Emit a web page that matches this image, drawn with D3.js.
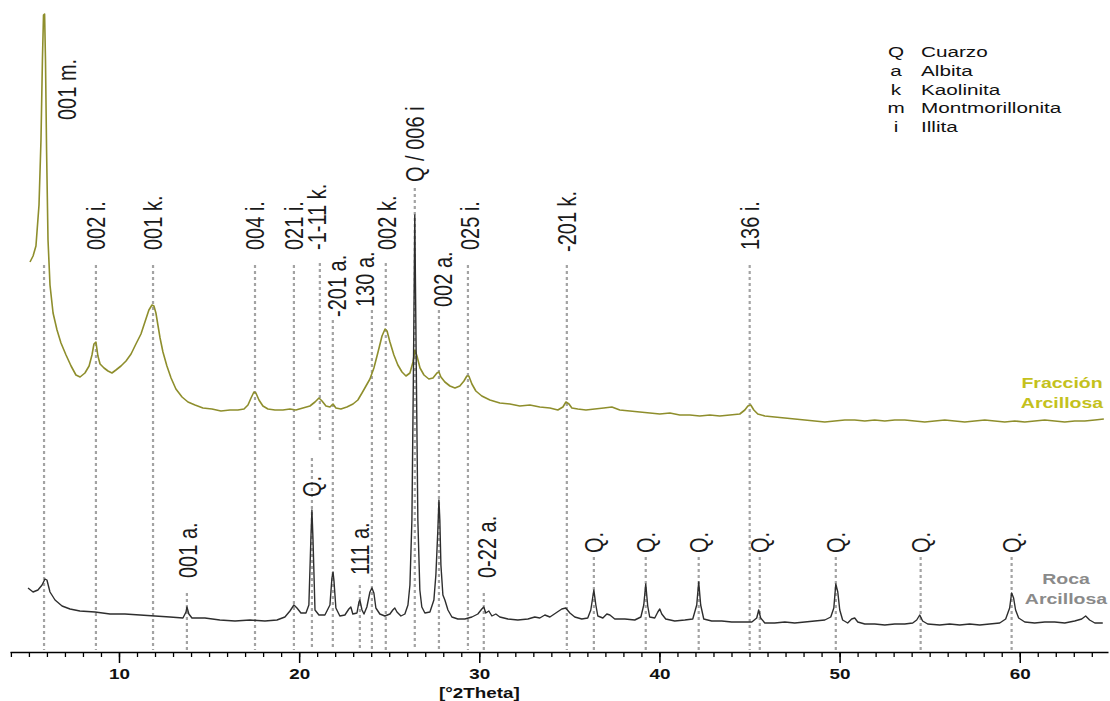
<!DOCTYPE html>
<html>
<head>
<meta charset="utf-8">
<script src="https://cdn.jsdelivr.net/npm/d3@7"></script>
<style>
  body { margin: 0; background: #fff; }
  text { font-family: "Liberation Sans", Arial, sans-serif; }
</style>
</head>
<body>
<svg id="chart" width="1110" height="701"></svg>
<script>
// XRD patterns, [°2Theta, intensity]
var clayPattern = [
  [5.06,390],[5.23,396],[5.39,406],[5.56,447],[5.67,512],[5.75,592],[5.81,637],[5.87,638],[5.92,592],[5.98,502],
  [6.06,412],[6.17,367],[6.34,339],[6.56,322],[6.78,309],[7.06,297],[7.34,286],[7.61,277],[7.84,275],[8.11,279],
  [8.34,286],[8.50,297],[8.61,308],[8.72,310],[8.83,296],[8.95,288],[9.17,284],[9.39,281],[9.61,279],[9.83,282],
  [10.11,286],[10.39,291],[10.67,298],[10.94,308],[11.22,318],[11.44,330],[11.66,342],[11.83,347],[11.94,346],[12.05,339],
  [12.16,327],[12.28,314],[12.44,300],[12.66,286],[12.89,274],[13.16,263],[13.50,255],[13.83,250],[14.22,247],[14.66,244],
  [15.16,243],[15.66,241],[16.16,242],[16.60,242],[16.94,243],[17.16,247],[17.33,254],[17.49,260],[17.60,259],[17.77,252],
  [17.99,246],[18.27,243],[18.66,242],[19.10,242],[19.49,243],[19.82,242],[20.21,244],[20.60,246],[20.88,250],[21.10,254],
  [21.27,251],[21.49,246],[21.71,245],[21.88,248],[22.04,244],[22.32,243],[22.65,245],[22.99,248],[23.26,252],[23.49,259],
  [23.71,266],[23.93,273],[24.15,284],[24.38,300],[24.60,316],[24.77,323],[24.88,321],[25.04,310],[25.26,297],[25.48,287],
  [25.71,280],[25.93,276],[26.15,279],[26.32,290],[26.43,302],[26.54,296],[26.71,284],[26.93,277],[27.20,273],[27.43,274],
  [27.65,279],[27.76,280],[27.87,275],[28.09,270],[28.37,266],[28.65,264],[28.92,266],[29.15,271],[29.31,276],[29.42,276],
  [29.59,268],[29.81,261],[30.14,256],[30.59,252],[31.14,249],[31.70,248],[32.25,246],[32.81,247],[33.36,245],[33.92,244],
  [34.36,242],[34.64,245],[34.81,250],[34.98,248],[35.14,244],[35.47,243],[35.92,242],[36.41,243],[36.91,244],[37.36,245],
  [37.80,242],[38.36,241],[38.91,240],[39.47,239],[40.02,238],[40.58,239],[41.13,237],[41.69,237],[42.24,236],[42.80,237],
  [43.35,236],[43.91,237],[44.46,238],[44.74,242],[44.91,246],[45.07,247],[45.24,242],[45.46,238],[45.85,236],[46.40,235],
  [46.96,234],[47.51,233],[48.07,232],[48.62,231],[49.18,230],[49.73,231],[50.29,232],[50.84,232],[51.40,231],[51.95,232],
  [52.51,231],[53.06,232],[53.62,232],[54.17,231],[54.73,230],[55.28,231],[55.84,232],[56.39,231],[56.95,230],[57.50,231],
  [58.06,232],[58.61,231],[59.17,230],[59.72,231],[60.28,230],[60.83,231],[61.39,232],[61.94,231],[62.50,230],[63.05,231],
  [63.61,231],[64.17,232],[64.67,233]
];

var rockPattern = [
  [4.95,64],[5.23,60],[5.50,62],[5.73,67],[5.89,73],[6.00,72],[6.17,60],[6.45,52],[6.84,46],[7.28,43],
  [7.83,41],[8.67,40],[9.50,38],[10.33,38],[11.17,37],[12.00,36],[12.83,35],[13.55,34],[13.72,40],[13.77,45],
  [13.88,38],[14.05,34],[14.77,34],[15.60,32],[16.44,31],[17.27,32],[18.10,31],[18.77,32],[19.21,35],[19.49,41],
  [19.71,47],[19.88,44],[20.10,39],[20.38,39],[20.54,47],[20.65,112],[20.71,142],[20.77,112],[20.88,42],[21.10,37],
  [21.43,37],[21.71,47],[21.82,74],[21.88,80],[21.93,72],[22.04,44],[22.26,36],[22.54,37],[22.76,43],[22.87,45],
  [22.98,38],[23.21,39],[23.32,50],[23.37,52],[23.49,42],[23.60,38],[23.76,45],[23.93,60],[24.04,64],[24.15,59],
  [24.26,44],[24.48,38],[24.76,36],[25.04,38],[25.20,42],[25.31,44],[25.43,40],[25.65,36],[25.87,38],[26.04,47],
  [26.15,67],[26.26,132],[26.34,272],[26.42,437],[26.51,272],[26.59,132],[26.70,62],[26.81,45],[26.98,39],[27.26,40],
  [27.48,52],[27.59,77],[27.70,122],[27.76,152],[27.81,132],[27.87,87],[27.98,57],[28.09,52],[28.26,42],[28.48,35],
  [28.81,33],[29.20,33],[29.59,35],[29.92,38],[30.14,43],[30.25,45],[30.36,39],[30.53,41],[30.70,36],[30.92,38],
  [31.14,35],[31.59,33],[32.14,32],[32.70,33],[33.08,35],[33.36,34],[33.64,37],[33.92,35],[34.25,39],[34.58,43],
  [34.80,44],[35.03,39],[35.30,35],[35.69,33],[36.02,34],[36.19,42],[36.36,62],[36.47,47],[36.58,36],[36.86,34],
  [37.08,38],[37.25,37],[37.52,33],[38.08,33],[38.63,32],[38.97,35],[39.13,47],[39.24,68],[39.35,46],[39.46,35],
  [39.74,34],[39.91,40],[40.02,43],[40.13,38],[40.35,33],[40.85,31],[41.41,32],[41.85,33],[42.07,47],[42.18,70],
  [42.29,47],[42.46,33],[42.90,31],[43.46,31],[44.01,30],[44.57,30],[45.13,30],[45.40,34],[45.51,42],[45.62,34],
  [45.85,29],[46.40,29],[46.96,30],[47.51,29],[48.07,30],[48.62,31],[49.18,32],[49.51,35],[49.68,44],[49.79,68],
  [49.90,60],[50.01,42],[50.17,32],[50.45,29],[50.67,33],[50.84,34],[51.01,30],[51.40,28],[51.95,28],[52.51,27],
  [53.06,28],[53.62,28],[54.06,29],[54.28,32],[54.45,37],[54.61,31],[54.89,28],[55.56,27],[56.11,28],[56.67,27],
  [57.22,28],[57.78,27],[58.33,28],[58.89,29],[59.22,33],[59.44,44],[59.55,59],[59.66,54],[59.77,42],[59.94,34],
  [60.28,30],[60.83,29],[61.39,30],[61.94,30],[62.50,29],[63.05,31],[63.44,33],[63.66,36],[63.88,32],[64.17,29],
  [64.61,29]
];

// peak markers: theta of the line, label, top of dotted line, label theta and label base (intensity units)
var clayPeaks = [
  {theta: 5.84,  label: "001 m.",   top: 387, at: 7.11,  base: 532},
  {theta: 8.72,  label: "002 i.",   top: 387, at: 8.72,  base: 402},
  {theta: 11.89, label: "001 k.",   top: 387, at: 11.89, base: 402},
  {theta: 17.55, label: "004 i.",   top: 387, at: 17.55, base: 402},
  {theta: 19.71, label: "021 i.",   top: 387, at: 19.71, base: 402},
  {theta: 21.15, label: "-1-11 k.", top: 389, at: 20.99, base: 402, bottom: 209},
  {theta: 21.87, label: "-201 a.",  top: 332, at: 22.10, base: 335},
  {theta: 24.04, label: "130 a.",   top: 342, at: 23.65, base: 345},
  {theta: 24.81, label: "002 k.",   top: 389, at: 24.85, base: 402},
  {theta: 26.42, label: "Q / 006 i", top: 464, at: 26.42, base: 470},
  {theta: 27.76, label: "002 a.",   top: 342, at: 27.98, base: 345},
  {theta: 29.37, label: "025 i.",   top: 387, at: 29.48, base: 402},
  {theta: 34.86, label: "-201 k.",  top: 387, at: 34.86, base: 400},
  {theta: 45.01, label: "136 i.",   top: 387, at: 45.01, base: 402}
];

var rockPeaks = [
  {theta: 13.77, label: "001 a.",  top: 59,  at: 13.83, base: 74},
  {theta: 20.71, label: "Q.",      top: 194, at: 20.71, base: 155},
  {theta: 23.37, label: "111 a.",  top: 67,  at: 23.37, base: 77},
  {theta: 30.25, label: "0-22 a.", top: 59,  at: 30.42, base: 74},
  {theta: 36.36, label: "Q.",      top: 95,  at: 36.36, base: 99},
  {theta: 39.24, label: "Q.",      top: 95,  at: 39.24, base: 99},
  {theta: 42.18, label: "Q.",      top: 95,  at: 42.18, base: 99},
  {theta: 45.57, label: "Q.",      top: 95,  at: 45.57, base: 99},
  {theta: 49.79, label: "Q.",      top: 95,  at: 49.79, base: 99},
  {theta: 54.50, label: "Q.",      top: 95,  at: 54.50, base: 99},
  {theta: 59.55, label: "Q.",      top: 95,  at: 59.55, base: 99}
];

var legendKeys = ["Q", "a", "k", "m", "i"];
var legendNames = ["Cuarzo", "Albita", "Kaolinita", "Montmorillonita", "Illita"];
var majorTicks = [10, 20, 30, 40, 50, 60];

var svg = d3.select("#chart");
var stretch = 1.3;   // text in the picture is wider than normal

var x = d3.scaleLinear().domain([3.95, 64.9]).range([10, 1108]);
var y = d3.scaleLinear().domain([0, 640]).range([652, 12]);

// dotted reference lines
var allPeaks = clayPeaks.concat(rockPeaks);
svg.append("g").selectAll("line")
  .data(allPeaks)
  .enter().append("line")
  .attr("x1", function (d) { return x(d.theta); })
  .attr("x2", function (d) { return x(d.theta); })
  .attr("y1", function (d) { return y(d.top); })
  .attr("y2", function (d) { return y(d.bottom || 2); })
  .attr("stroke", "#a3a3a3")
  .attr("stroke-width", 2.2)
  .attr("stroke-dasharray", "3,3");

var line = d3.line()
  .x(function (d) { return x(d[0]); })
  .y(function (d) { return y(d[1]); });

svg.append("path")
  .datum(clayPattern)
  .attr("d", line)
  .attr("fill", "none")
  .attr("stroke", "#8e8e2c")
  .attr("stroke-width", 1.6)
  .attr("stroke-linejoin", "round");

svg.append("path")
  .datum(rockPattern)
  .attr("d", line)
  .attr("fill", "none")
  .attr("stroke", "#2e2e2e")
  .attr("stroke-width", 1.4)
  .attr("stroke-linejoin", "round");

// rotated peak labels
svg.append("g").selectAll("text")
  .data(allPeaks)
  .enter().append("text")
  .attr("transform", function (d) {
    return "translate(" + x(d.at) + "," + y(d.base) + ") scale(" + stretch + ",1) rotate(-90)";
  })
  .attr("dy", "0.35em")
  .attr("font-size", 20)
  .attr("fill", "#1a1a1a")
  .text(function (d) { return d.label; });

// x axis
var axisG = svg.append("g").attr("transform", "translate(0," + y(0) + ")");
axisG.call(d3.axisBottom(x).tickValues(d3.range(4, 65)).tickSize(5).tickSizeOuter(0).tickFormat(""));
axisG.select(".domain").attr("stroke-width", 1.6);
axisG.selectAll(".tick line").attr("stroke-width", 1.3);

var majorG = svg.append("g").attr("transform", "translate(0," + y(0) + ")");
majorG.call(d3.axisBottom(x).tickValues(majorTicks).tickSize(11).tickPadding(6).tickFormat(d3.format("d")));
majorG.select(".domain").remove();
majorG.selectAll(".tick line").attr("stroke-width", 1.5);
majorG.selectAll("text")
  .attr("font-size", 14.5)
  .attr("font-weight", "bold")
  .attr("font-family", "Liberation Sans, Arial, sans-serif")
  .attr("fill", "#111")
  .attr("transform", "scale(" + stretch + ",1)");

svg.append("text")
  .attr("transform", "translate(" + x(30) + ",698) scale(" + stretch + ",1)")
  .attr("text-anchor", "middle")
  .attr("font-size", 14.5)
  .attr("font-weight", "bold")
  .attr("fill", "#111")
  .text("[°2Theta]");

// legend
var legendStretch = 1.38;
var legend = svg.append("g");
legend.selectAll("text.key")
  .data(legendKeys)
  .enter().append("text")
  .attr("class", "key")
  .attr("transform", function (d, i) { return "translate(896," + (57 + i * 18.8) + ") scale(" + legendStretch + ",1)"; })
  .attr("text-anchor", "middle")
  .attr("font-size", 15)
  .attr("fill", "#111")
  .text(function (d) { return d; });
legend.selectAll("text.name")
  .data(legendNames)
  .enter().append("text")
  .attr("class", "name")
  .attr("transform", function (d, i) { return "translate(921," + (57 + i * 18.8) + ") scale(" + legendStretch + ",1)"; })
  .attr("font-size", 15)
  .attr("fill", "#111")
  .text(function (d) { return d; });

// series names
function seriesName(lines, cx, y0, colour) {
  svg.append("g").selectAll("text")
    .data(lines)
    .enter().append("text")
    .attr("transform", function (d, i) { return "translate(" + cx + "," + (y0 + i * 19.5) + ") scale(" + stretch + ",1)"; })
    .attr("text-anchor", "middle")
    .attr("font-size", 15)
    .attr("font-weight", "bold")
    .attr("fill", colour)
    .text(function (d) { return d; });
}
seriesName(["Fracción", "Arcillosa"], 1062, 388, "#c4c11c");
seriesName(["Roca", "Arcillosa"], 1066, 584, "#8a8a8a");
</script>
</body>
</html>
